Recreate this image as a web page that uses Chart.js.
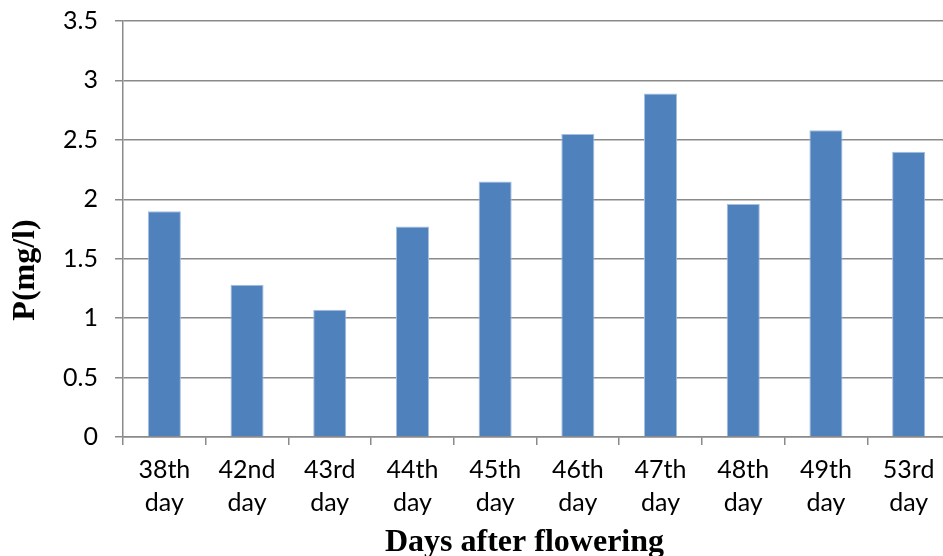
<!DOCTYPE html>
<html>
<head>
<meta charset="utf-8">
<script src="https://cdn.jsdelivr.net/npm/chart.js@4/dist/chart.umd.min.js"></script>
<style>
  html, body { margin: 0; padding: 0; background: #fff; overflow: hidden; }
  #wrap { width: 951px; height: 556px; position: relative; }
</style>
</head>
<body>
<div id="wrap"><canvas id="c"></canvas></div>
<script>
// Phosphorus concentration by sampling day
const dayLabels = [
  ['38th', 'day'], ['42nd', 'day'], ['43rd', 'day'], ['44th', 'day'], ['45th', 'day'],
  ['46th', 'day'], ['47th', 'day'], ['48th', 'day'], ['49th', 'day'], ['53rd', 'day']
];
const phosphorus = [1.90, 1.28, 1.07, 1.77, 2.15, 2.55, 2.89, 1.96, 2.58, 2.40];
const yTicks = [0, 0.5, 1, 1.5, 2, 2.5, 3, 3.5];
const xTitle = 'Days after flowering';
const yTitle = 'P(mg/l)';

const gridColor = '#8a8a8a';
const titleFont = 'bold 32px "Liberation Serif"';

// Axis titles, placed relative to the chart area
const axisTitles = {
  id: 'axisTitles',
  afterDraw(chart) {
    const { ctx, chartArea } = chart;
    ctx.save();
    ctx.fillStyle = '#000';
    ctx.font = titleFont;
    ctx.textAlign = 'center';
    ctx.textBaseline = 'alphabetic';
    const cx = (chartArea.left + chartArea.right) / 2 - 12;
    ctx.fillText(xTitle, cx, chartArea.bottom + 114);
    ctx.translate(34, (chartArea.top + chartArea.bottom) / 2 + 41);
    ctx.rotate(-Math.PI / 2);
    ctx.fillText(yTitle, 0, 0);
    ctx.restore();
  }
};

new Chart(document.getElementById('c'), {
  type: 'bar',
  data: {
    labels: dayLabels,
    datasets: [{
      data: phosphorus,
      backgroundColor: '#4f81bd',
      borderColor: '#a7bedf',
      borderWidth: 1,
      borderSkipped: 'bottom',
      categoryPercentage: 1.0,
      barPercentage: 0.4
    }]
  },
  plugins: [axisTitles],
  options: {
    responsive: true,
    maintainAspectRatio: false,
    devicePixelRatio: 1,
    animation: false,
    layout: { padding: { top: 21, right: 1, left: 0, bottom: 0 } },
    plugins: { legend: { display: false }, tooltip: { enabled: false } },
    scales: {
      x: {
        offset: true,
        grid: {
          offset: true,
          drawOnChartArea: false,
          drawTicks: true,
          tickLength: 8,
          color: gridColor,
          lineWidth: 1.5
        },
        border: { color: gridColor, width: 1.5 },
        ticks: {
          color: '#000',
          padding: 8,
          maxRotation: 0,
          autoSkip: false,
          font: { family: 'Lato', size: 25, lineHeight: 1.34 }
        },
        afterFit: (scale) => { scale.height = 119; }
      },
      y: {
        min: 0,
        max: 3.5,
        afterBuildTicks: (scale) => { scale.ticks = yTicks.map(v => ({ value: v })); },
        grid: {
          drawTicks: true,
          tickLength: 8,
          color: gridColor,
          lineWidth: 1.5
        },
        border: { color: gridColor, width: 1.5 },
        ticks: {
          color: '#000',
          padding: 17,
          font: { family: 'Lato', size: 25 },
          callback: (v) => String(v)
        },
        afterFit: (scale) => {
          scale.width = 123;
          scale.paddingTop = 0;
          scale.paddingBottom = 0;
        }
      }
    }
  }
});
</script>
</body>
</html>
